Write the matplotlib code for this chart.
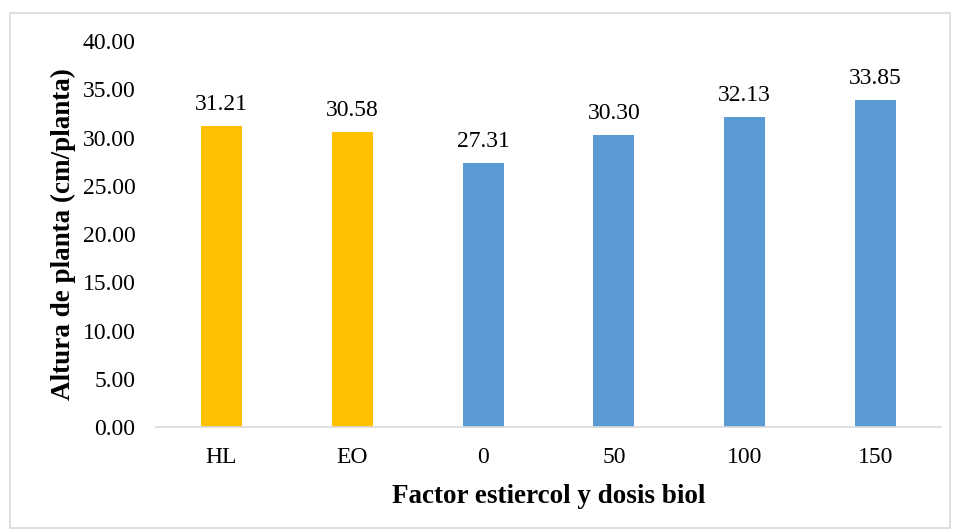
import matplotlib.pyplot as plt
from matplotlib.patches import Rectangle

# datos
categorias = ['HL', 'EO', '0', '50', '100', '150']
altura = [31.21, 30.58, 27.31, 30.30, 32.13, 33.85]
colores = ['#FFC000', '#FFC000', '#5B9BD5', '#5B9BD5', '#5B9BD5', '#5B9BD5']

plt.rcParams['font.family'] = ['Liberation Serif', 'DejaVu Serif']

fig = plt.figure(figsize=(9.58, 5.32), dpi=100)
ax = fig.add_axes([0.163, 0.197, 0.819, 0.726])

x = range(len(categorias))
barras = ax.bar(x, altura, width=0.314, color=colores)
for b, v in zip(barras, altura):
    ax.text(b.get_x() + b.get_width() / 2, v + 1.15, f'{v:.2f}',
            ha='center', va='bottom', fontsize=17)

ax.set_xlim(-0.5, len(categorias) - 0.5)
ax.set_ylim(0, 40)
ax.set_yticks(range(0, 41, 5))
ax.set_yticklabels([f'{t:.2f}' for t in range(0, 41, 5)])
ax.set_xticks(list(x))
ax.set_xticklabels(categorias)
ax.tick_params(axis='both', length=0, labelsize=17, colors='black')
ax.tick_params(axis='x', pad=14)
ax.tick_params(axis='y', pad=15)

for s in ['top', 'right', 'left']:
    ax.spines[s].set_visible(False)
ax.spines['bottom'].set_color('#D9D9D9')
ax.spines['bottom'].set_linewidth(1.2)

ax.set_xlabel('Factor estiercol y dosis biol', fontsize=19.5, fontweight='bold', labelpad=12)
ax.set_ylabel('Altura de planta (cm/planta)', fontsize=19.5, fontweight='bold', labelpad=5)

# borde del gráfico
fig.patches.append(Rectangle((10 / 958, 4 / 532), 940 / 958, 515 / 532,
                             transform=fig.transFigure, fill=False,
                             edgecolor='#D9D9D9', linewidth=1.2))

fig.savefig('out.png', dpi=100)
